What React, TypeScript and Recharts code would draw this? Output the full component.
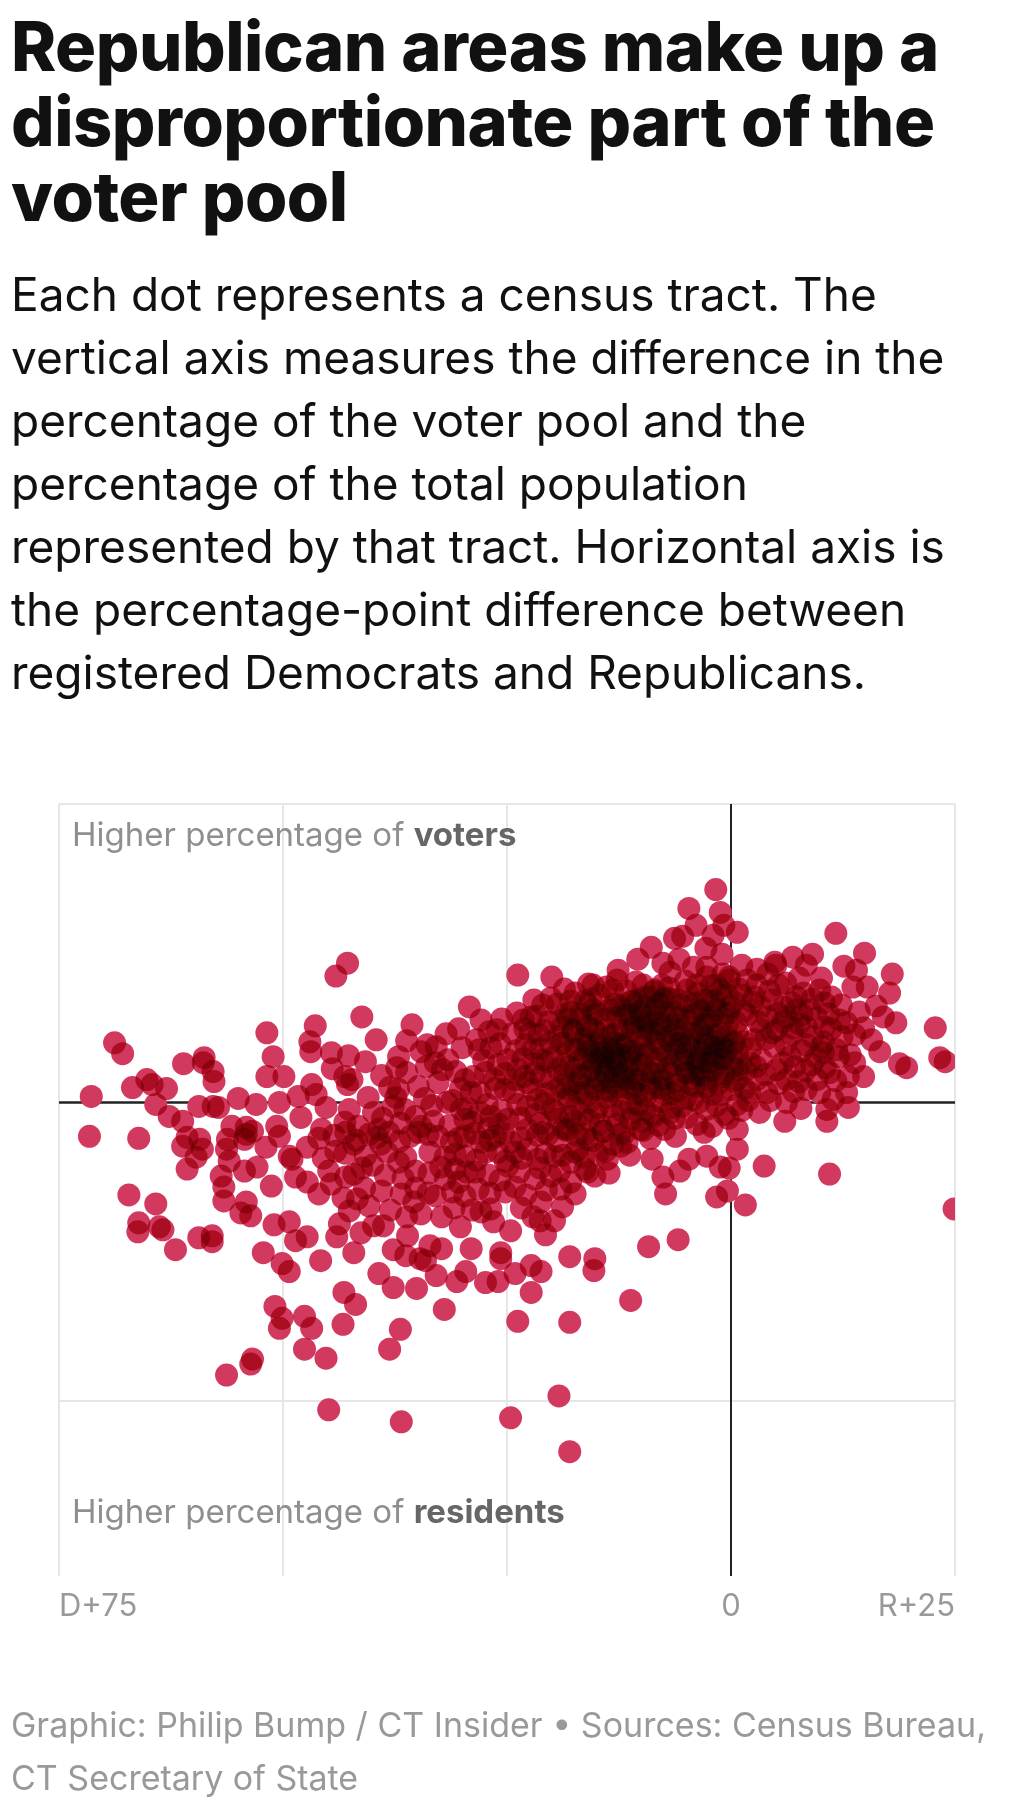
import React from 'react';
import { ScatterChart, Scatter, XAxis, YAxis, ReferenceLine } from 'recharts';

const titleLines = ['Republican areas make up a', 'disproportionate part of the', 'voter pool'];
const subtitleLines = [
  'Each dot represents a census tract. The',
  'vertical axis measures the difference in the',
  'percentage of the voter pool and the',
  'percentage of the total population',
  'represented by that tract. Horizontal axis is',
  'the percentage-point difference between',
  'registered Democrats and Republicans.',
];
const footerLines = ['Graphic: Philip Bump / CT Insider • Sources: Census Bureau,', 'CT Secretary of State'];
const topLabel = ['Higher percentage of ', 'voters'];
const bottomLabel = ['Higher percentage of ', 'residents'];

const xTicks = [-75, -50, -25, 0, 25];
const xTickLabels: Record<string, string> = { '-75': 'D+75', '0': '0', '25': 'R+25' };
const xDomain: [number, number] = [-75, 25];
const yDomain: [number, number] = [-47.6, 30];
const yGridValues = [30, -30];

// x: party-point difference (negative = Democratic), y: voter share minus population share (scaled units)
const westTracts: [number, number][] = [
  [-68.8, 6.0], [-67.9, 4.9], [-71.4, 0.6], [-71.6, -3.4], [-66.8, 1.5], [-65.2, 2.3], [-64.6, 1.8], [-63.0, 1.4],
  [-64.2, -0.2], [-62.7, -1.4], [-61.2, -1.9], [-61.1, 3.9], [-58.8, 4.5], [-58.9, 4.0], [-57.8, 3.1], [-57.7, 2.1],
  [-59.4, -0.4], [-57.8, -0.4], [-57.2, -0.5], [-55.0, 0.4], [-53.0, -0.2], [-51.8, 7.0], [-51.1, 4.6], [-51.8, 2.6],
  [-49.9, 2.6], [-50.4, 0.0], [-66.1, -3.6], [-55.7, -2.4], [-54.1, -2.5], [-53.4, -2.9], [-50.7, -2.4], [-61.2, -4.4],
  [-60.7, -3.5], [-59.3, -3.7], [-59.0, -4.7], [-59.7, -5.5], [-60.7, -6.7], [-56.2, -3.7], [-56.3, -4.7], [-56.0, -5.9],
  [-56.9, -7.4], [-56.6, -8.5], [-56.6, -9.9], [-54.3, -3.7], [-54.1, -3.2], [-54.3, -6.9], [-52.9, -6.5], [-51.9, -4.5],
  [-50.4, -3.4], [-49.3, -5.4], [-51.3, -8.4], [-54.1, -10.0], [-54.7, -11.1], [-53.6, -11.4], [-51.0, -12.3], [-49.3, -12.0],
  [-52.2, -15.1], [-50.1, -16.2], [-49.3, -17.0], [-50.9, -20.5], [-50.1, -21.7], [-50.4, -22.7], [-53.4, -25.8], [-53.6, -26.3],
  [-56.3, -27.4], [-67.2, -9.3], [-64.2, -10.2], [-66.1, -12.1], [-66.2, -13.0], [-63.8, -12.5], [-63.4, -12.8], [-62.0, -14.8],
  [-59.4, -13.6], [-57.9, -13.4], [-57.9, -14.0],
];

const centralWestTracts: [number, number][] = [
  [-42.8, 14.0], [-44.1, 12.7], [-46.4, 7.7], [-47.0, 6.1], [-46.9, 5.1], [-44.6, 5.0], [-42.7, 4.7], [-43.1, 2.6],
  [-42.3, 2.3], [-42.8, 1.8], [-46.8, 1.8], [-46.3, 0.8], [-36.2, 6.2], [-37.1, 4.6],
  [-37.3, 3.5], [-36.2, 3.0], [-38.1, 1.5], [-37.1, 1.3], [-37.4, 0.5], [-37.7, -0.4], [-36.4, -0.7], [-34.9, 1.6],
  [-33.9, 5.8], [-32.9, 5.6], [-34.0, 3.6], [-33.0, 4.0], [-32.2, 3.3], [-32.7, 2.0], [-30.7, 3.1], [-31.6, 4.3],
  [-30.4, 7.4], [-29.2, 9.6], [-27.9, 8.3], [-27.0, 7.1], [-28.4, 6.3], [-28.1, 5.3], [-25.8, 5.9], [-24.9, 4.3],
  [-27.4, 3.0], [-29.0, 1.0], [-31.7, 0.0], [-30.1, -0.7], [-28.0, -1.0], [-25.2, 1.3], [-24.1, 2.3], [-23.8, 12.8],
  [-48.0, -1.5], [-45.7, -2.7], [-43.1, -2.0], [-39.3, -2.7], [-35.2, -1.4], [-29.7, -1.7], [-26.8, -1.4],
  [-24.9, -1.7], [-41.6, -2.4], [-34.6, -2.4],
  [-41.2, 8.6], [-39.6, 6.3], [-40.8, 4.1], [-39.0, 2.7], [-35.6, 7.8], [-34.6, 5.1], [-31.8, 6.9], [-30.0, 5.5],
  [-29.7, 2.3], [-34.2, 0.4], [-40.5, 0.5], [-44.5, 3.4], [-48.3, 0.6], [-45.2, -0.5], [-42.6, -0.7], [-39.9, -1.0],
];

const centralTracts: [number, number][] = [
  [-47.3, -4.5], [-44.1, -4.9], [-42.1, -4.2], [-49.0, -5.7], [-48.6, -7.5], [-47.3, -8.0], [-46.0, -9.2], [-44.6, -8.2],
  [-42.1, -7.2], [-41.7, -9.7], [-40.0, -6.3], [-39.1, -4.2], [-37.1, -6.0], [-35.8, -3.4], [-35.2, -6.9], [-36.8, -9.2],
  [-36.2, -11.5], [-34.6, -11.2], [-33.0, -9.4], [-31.9, -7.7], [-30.8, -6.7], [-29.7, -9.4], [-28.2, -8.7], [-27.9, -11.0],
  [-26.8, -10.7], [-25.2, -9.0], [-25.2, -5.9], [-27.4, -5.0], [-29.7, -5.4], [-31.9, -5.5], [-32.3, -11.5], [-30.2, -12.5],
  [-48.6, -13.9], [-47.3, -13.5], [-43.7, -12.2], [-44.0, -13.5], [-41.3, -13.1], [-39.9, -12.4], [-38.8, -12.4], [-42.1, -15.1],
  [-37.7, -14.8], [-36.1, -13.4], [-36.3, -15.4], [-34.7, -15.7], [-33.6, -14.4], [-32.3, -14.7], [-34.1, -15.9], [-32.9, -17.4],
  [-29.0, -14.7], [-25.7, -15.1], [-25.7, -15.7], [-29.6, -17.0], [-30.6, -18.0], [-27.4, -18.1], [-26.0, -18.0], [-24.1, -17.2],
  [-45.8, -15.9], [-39.3, -17.2], [-37.7, -18.6], [-35.1, -18.7], [-43.2, -19.1], [-41.9, -20.3], [-43.3, -22.3], [-47.6, -21.5],
  [-46.8, -22.7], [-47.6, -24.8], [-45.2, -25.7], [-36.9, -22.8], [-38.1, -24.8], [-32.0, -20.8], [-44.9, -30.9], [-36.8, -32.1],
  [-24.6, -31.7], [-23.8, -22.0], [-24.6, -12.9], [-43.0, -3.0], [-40.4, -3.2], [-38.2, -3.0], [-34.9, -3.0], [-32.7, -3.4],
  [-31.2, -4.0], [-29.7, -3.4], [-27.9, -4.0], [-26.3, -3.4], [-24.6, -4.0], [-24.9, -6.4], [-28.6, -7.0], [-30.4, -8.0],
  [-46.0, -3.6], [-44.3, -3.3], [-41.8, -3.8], [-39.5, -3.5], [-37.0, -3.9], [-33.8, -3.2], [-30.4, -3.6], [-28.6, -3.1],
  [-26.9, -3.8], [-25.4, -3.1], [-45.5, -5.6], [-43.1, -5.1], [-40.8, -5.4], [-38.4, -5.0], [-36.3, -5.5], [-33.6, -5.0],
  [-30.8, -5.2], [-28.4, -5.8], [-26.0, -5.0], [-44.9, -6.9], [-43.0, -7.5], [-41.2, -6.6], [-38.6, -7.3], [-36.6, -7.6],
  [-33.7, -7.1], [-32.4, -6.5], [-29.5, -7.0], [-27.1, -7.3], [-25.8, -7.8], [-43.3, -9.6], [-40.9, -8.6], [-39.0, -8.9],
  [-35.2, -8.6], [-33.8, -9.1], [-31.1, -9.0], [-26.9, -9.1], [-42.6, -10.9], [-40.4, -10.4], [-38.0, -10.8], [-35.4, -10.0],
  [-30.9, -10.6], [-28.9, -10.8], [-26.5, -12.0],
];

const coreTracts: [number, number][] = [
  [-1.7, 21.4], [-4.7, 19.5], [-6.3, 16.5], [-5.4, 16.7], [-2.0, 16.8], [-2.8, 15.5], [-7.6, 14.0], [-5.8, 14.4],
  [-6.8, 13.1], [-2.7, 13.6], [-2.7, 12.6], [-0.2, 12.3], [-20.0, 12.6], [-20.1, 10.5], [-12.6, 13.3],
  [-12.7, 12.3], [-10.6, 12.1], [-8.6, 11.1], [-9.1, 10.6], [-17.4, 11.0], [-14.7, 10.8], [-22.3, 8.6], [-22.4, 7.0],
  [-21.4, 6.8], [-20.2, 6.0], [-19.9, 4.5], [-18.8, 7.6], [-17.9, 9.1], [-16.0, 7.6], [-17.1, 5.3],
  [-14.1, 4.6], [-14.0, 7.3], [-11.9, 9.3], [-10.1, 8.6], [-10.8, 8.0], [-6.3, 9.0], [-4.1, 10.0], [-3.0, 10.3],
  [-1.2, 11.3], [-2.7, 8.3], [-3.4, 5.0], [-1.9, 4.6], [-4.9, 3.0], [-9.0, 3.0], [-11.6, 6.0], [-8.2, 6.0],
  [-5.7, 6.0], [-15.2, 2.6], [-17.4, 3.3], [-21.2, 2.6], [-23.8, 3.3], [-22.7, 2.0], [-19.0, 1.6], [-12.7, 1.6],
  [-7.4, 1.3], [-2.7, 1.6], [-0.8, 2.6], [-16.6, 6.3], [-15.4, 4.3], [-13.2, 5.3], [-14.8, 5.8], [-12.7, 3.8],
  [-13.6, 3.3], [-10.4, 4.8], [-9.3, 6.8], [-7.7, 7.8], [-7.1, 4.8], [-4.3, 6.8], [-3.8, 3.8], [-1.0, 6.3],
  [0.1, 4.3], [-0.4, 7.8], [-1.6, 9.3], [-4.9, 8.3], [-4.9, 11.3], [-8.2, 9.8], [-10.4, 10.3], [-13.6, 9.3],
  [-15.4, 8.8], [-17.7, 7.3], [-19.3, 3.3], [-17.7, 1.8], [-16.0, 0.8], [-13.8, 0.5], [-11.6, 2.3], [-9.9, 0.8],
  [-8.2, 2.8], [-6.0, 1.8], [-4.3, 0.3], [-2.1, 0.8], [0.1, 1.3], [0.7, 3.3], [-3.2, 2.8], [-5.4, 4.3],
  [-9.3, 4.8], [-6.6, 6.8], [-3.2, 6.8], [-2.7, 7.8], [-3.8, 11.8], [-6.0, 10.3], [-12.1, 7.3], [-14.3, 2.0],
  [-21.0, 4.3], [-22.1, 5.3], [-23.2, 8.3], [-19.2, 8.3], [-21.0, 9.8], [-15.4, 11.8], [-16.0, 9.8], [-13.2, 11.3],
  [-7.7, 11.8], [-0.4, 5.3], [-1.6, 3.8],
  [-23.8, -0.2], [-21.6, 0.3], [-19.9, -0.7], [-18.2, 0.3], [-16.6, -1.2], [-14.9, -0.5], [-12.1, -0.9], [-10.4, -0.2],
  [-8.8, -1.2], [-6.6, -0.5], [-4.9, -1.5], [-2.7, -0.7], [-0.7, -1.2], [0.7, -0.2], [-24.1, -5.0], [-22.7, -4.7],
  [-21.6, -5.7], [-19.7, -5.4], [-17.9, -6.0], [-16.3, -6.7], [-21.9, -7.7], [-20.1, -7.4], [-22.7, -2.7], [-20.4, -3.2],
  [-18.2, -2.7], [-16.0, -3.7], [-14.3, -2.9], [-13.2, -4.2], [-17.1, -4.7], [-14.9, -5.2], [-8.8, -5.7], [-7.6, -7.5],
  [-7.3, -9.2], [-5.7, -6.9], [-4.7, -5.7], [-2.7, -5.4], [-1.2, -6.5], [-0.2, -6.6], [-0.4, -8.9], [-1.6, -9.5],
  [1.6, -10.3], [0.7, -4.7], [-3.0, -3.0], [-7.4, -2.7], [-10.1, -2.7], [-11.6, -4.0], [-12.3, -4.4], [-13.8, -5.7],
  [-16.0, -7.0], [-17.9, -8.0], [-19.0, -8.7], [-21.2, -10.0], [-18.8, -10.5], [-19.7, -11.9], [-22.1, -11.5], [-20.7, -13.3],
  [-22.3, -16.4], [-21.2, -17.0], [-22.3, -19.1], [-18.0, -15.5], [-15.2, -15.7], [-15.3, -16.9], [-9.2, -14.5], [-5.9, -13.8],
  [-11.2, -19.9], [-18.0, -22.1], [-19.2, -29.5], [-18.0, -35.1], [-17.4, -1.9], [-9.9, -1.9], [-3.8, -2.2], [-12.7, -2.2],
  [-19.3, -1.7], [-17.4, -5.0],
];

const coreFillTracts: [number, number][] = [
  [-18.6, 11.4], [-15.9, 11.9], [-13.9, 11.6], [-11.7, 11.2], [-9.8, 11.8], [-6.9, 11.5], [-5.1, 12.2], [-2.2, 11.7], [-0.9, 12.9],
  [-22.0, 10.3], [-19.4, 9.9], [-17.9, 10.2], [-15.6, 10.4], [-13.0, 9.9], [-11.2, 10.1], [-9.6, 9.6], [-7.3, 10.5], [-5.6, 9.8],
  [-3.6, 9.4], [-1.9, 10.2], [-0.4, 10.8],
  [-25.6, 8.4], [-23.9, 9.0], [-21.7, 8.7], [-20.3, 8.1], [-18.4, 8.9], [-16.8, 8.4], [-14.9, 8.9], [-12.8, 8.5], [-11.3, 8.9],
  [-9.4, 8.2], [-8.1, 8.7], [-5.9, 8.4], [-4.0, 8.9], [-2.1, 8.6], [-0.6, 8.9],
  [-26.1, 7.3], [-24.4, 6.9], [-23.0, 7.4], [-20.8, 7.2], [-19.3, 6.6], [-17.6, 7.0], [-15.3, 7.3], [-13.2, 6.8], [-11.0, 7.1],
  [-9.9, 7.5], [-8.4, 6.9], [-6.1, 7.3], [-5.0, 7.6], [-3.5, 7.1], [-1.8, 6.8], [-0.5, 6.6],
  [-26.8, 5.5], [-24.0, 5.2], [-22.9, 5.8], [-21.3, 5.4], [-19.0, 5.9], [-18.2, 5.1], [-16.0, 5.6], [-14.5, 5.0], [-12.3, 5.8],
  [-11.1, 5.1], [-9.8, 5.7], [-7.9, 5.3], [-6.4, 5.8], [-4.6, 5.4], [-2.6, 5.9], [-1.1, 5.6], [0.3, 5.9],
  [-27.6, 4.2], [-26.0, 3.8], [-23.2, 4.4], [-22.0, 3.9], [-20.5, 4.1], [-18.7, 3.8], [-16.9, 4.3], [-14.7, 3.9], [-12.9, 4.5],
  [-11.4, 3.7], [-10.1, 4.2], [-8.3, 4.0], [-6.8, 4.4], [-5.2, 3.6], [-3.6, 4.5], [-2.2, 4.1], [-0.9, 4.4], [1.1, 3.9],
  [-28.8, 2.6], [-26.4, 2.3], [-25.2, 2.9], [-23.1, 2.6], [-21.9, 3.0], [-20.1, 2.4], [-18.6, 2.8], [-16.7, 2.5], [-15.9, 3.1],
  [-13.9, 2.6], [-12.1, 2.9], [-10.9, 2.4], [-9.6, 2.7], [-7.9, 2.3], [-6.5, 2.9], [-4.1, 2.5], [-1.5, 2.9], [0.4, 2.1],
  [-30.2, 1.4], [-28.0, 1.0], [-26.3, 1.4], [-24.3, 1.0], [-22.1, 1.3], [-20.6, 0.9], [-18.3, 1.4], [-17.0, 1.0], [-15.1, 1.3],
  [-13.3, 1.1], [-11.8, 1.5], [-10.5, 0.9], [-8.9, 1.4], [-7.5, 0.8], [-5.9, 1.2], [-4.1, 1.6], [-1.1, 0.8], [1.5, 1.4],
  [-33.4, -0.3], [-31.1, 0.2], [-29.4, -0.6], [-27.2, -0.2], [-25.6, -0.8], [-22.7, -0.4], [-20.8, -0.1], [-17.4, -0.6],
  [-15.8, 0.0], [-13.4, -0.4], [-11.2, -0.1], [-9.6, -0.7], [-7.8, 0.1], [-5.5, -0.4], [-3.6, 0.0], [-1.6, -0.3], [1.9, 0.2],
  [-38.9, -1.6], [-36.9, -2.1], [-33.2, -1.9], [-31.4, -2.3], [-28.9, -2.0], [-27.1, -2.6], [-25.9, -2.2], [-23.5, -1.6],
  [-21.3, -2.1], [-18.7, -2.6], [-15.9, -1.8], [-14.6, -2.2], [-11.2, -1.7], [-8.1, -2.3], [-6.3, -1.6], [-2.1, -2.4], [-0.3, -1.6],
  [-23.4, -3.6], [-21.6, -3.3], [-19.4, -3.9], [-17.2, -3.3], [-15.4, -3.8], [-12.4, -3.2], [-9.0, -3.6], [-6.2, -3.4],
  [-23.4, -5.6], [-20.7, -5.1], [-18.8, -5.3], [-16.4, -5.5], [-14.0, -4.9], [-11.3, -5.3],
  [-23.6, -7.0], [-21.3, -6.6], [-19.1, -6.9], [-15.2, -7.4], [-13.6, -7.1],
  [-24.1, -8.5], [-22.9, -9.3], [-20.6, -8.8], [-17.4, -9.2], [-23.4, -10.6], [-21.3, -11.9],
  [-10.4, 14.4], [-8.9, 15.6], [-4.2, 13.6], [-1.0, 14.9], [-0.8, 17.8], [-3.9, 17.8], [-1.2, 19.1],
];

// darkest clusters of overlapping tracts
const coreDenseTracts: [number, number][] = [
  [-15.9, 5.8], [-14.6, 6.3], [-13.1, 6.0], [-11.8, 5.6], [-16.4, 4.4], [-15.0, 4.9], [-13.7, 4.3], [-12.4, 4.8],
  [-11.2, 4.1], [-15.6, 3.3], [-14.2, 3.6], [-12.9, 3.1], [-11.6, 3.4], [-14.8, 2.2], [-13.3, 2.0], [-12.0, 2.5],
  [-16.8, 2.7], [-10.9, 5.2], [-13.5, 5.4], [-14.9, 7.0], [-12.6, 7.2], [-16.2, 6.5], [-10.6, 3.0], [-13.9, 1.3], [-15.2, 1.6],
  [-5.6, 6.6], [-4.2, 7.0], [-2.7, 6.5], [-1.3, 6.9], [-6.1, 5.3], [-4.8, 5.7], [-3.4, 5.2], [-2.0, 5.6],
  [-0.6, 5.1], [-5.4, 4.2], [-4.0, 4.5], [-2.6, 4.0], [-1.2, 4.4], [-5.0, 3.0], [-3.6, 2.7], [-2.2, 3.2],
  [-0.8, 2.9], [-6.4, 3.8], [-4.5, 1.8], [-2.9, 1.5], [-1.4, 1.9], [0.2, 3.6], [0.4, 6.1], [-3.1, 7.8], [-6.8, 6.2],
  [-11.0, 10.2], [-9.6, 10.6], [-8.1, 10.0], [-6.7, 10.4], [-11.7, 8.8], [-10.2, 9.2], [-8.8, 8.7], [-7.3, 9.1],
  [-5.9, 8.6], [-10.8, 7.6], [-9.3, 7.9], [-7.9, 7.4], [-6.5, 7.8], [-12.4, 9.7], [-8.5, 11.3], [-10.0, 6.5],
  [-8.6, 6.2], [-7.1, 6.6], [-9.4, 5.0], [-7.8, 4.6],
  [-2.6, 10.3], [-1.1, 10.7], [0.3, 10.1], [-3.2, 9.2], [-1.8, 9.6], [-0.3, 9.0], [-2.4, 8.2], [-0.9, 8.5],
  [0.6, 8.0], [-4.3, 8.8], [-1.6, 11.8], [-4.9, 10.1], [-3.7, 11.0], [0.9, 11.4], [-0.2, 12.6],
  [-18.2, 8.4], [-16.8, 8.9], [-15.4, 9.3], [-17.5, 7.2], [-16.1, 7.7], [-18.8, 6.0], [-17.4, 5.3], [-18.0, 3.6],
  [-17.1, 2.0], [-16.3, 10.2], [-14.1, 8.4], [-13.0, 9.4],
  [-19.6, 1.2], [-18.1, 0.6], [-16.4, 1.0], [-12.6, 0.7], [-11.1, 1.3], [-9.5, 0.6], [-8.0, 1.5], [-6.6, 0.9],
  [-5.1, 0.4], [-10.4, 2.2], [-8.7, 2.9], [-7.2, 3.4], [-9.9, 3.8],
  [-21.8, -1.2], [-19.6, -1.0], [-17.9, -1.4], [-15.2, -1.1], [-13.1, -1.3], [-11.0, -1.0], [-8.6, -1.4], [-6.9, -1.1],
  [-20.9, -3.0], [-18.4, -2.8], [-16.3, -3.2], [-14.2, -2.9], [-11.9, -3.1], [-9.8, -2.8],
  [-14.4, 5.1], [-13.0, 4.2], [-12.2, 5.9], [-15.3, 4.0], [-14.0, 3.0], [-12.7, 3.7], [-13.6, 6.6], [-11.4, 4.7],
  [-15.8, 5.2], [-12.9, 2.6], [-14.5, 4.5], [-13.2, 5.0],
  [-4.5, 6.2], [-3.0, 5.9], [-1.8, 5.0], [-3.9, 4.1], [-2.4, 4.7], [-5.0, 4.9], [-3.3, 3.4], [-1.9, 6.2],
  [-4.1, 3.0], [-0.9, 5.5], [-2.8, 2.3], [-5.8, 5.9],
  [-9.9, 8.3], [-8.4, 9.4], [-7.0, 8.2], [-10.6, 9.9], [-9.0, 7.2], [-7.6, 10.4], [-11.3, 8.0], [-8.1, 8.0],
  [-9.1, 1.9], [-7.6, 2.3], [-10.9, 1.8], [-6.2, 2.1],
];

const eastTracts: [number, number][] = [
  [0.7, 17.1], [11.7, 17.0], [14.9, 15.0], [18.0, 12.9], [15.2, 11.6], [17.7, 11.0], [17.0, 8.6], [18.4, 8.0],
  [22.8, 7.5], [23.3, 4.5], [23.9, 4.1], [18.8, 3.9], [19.6, 3.5], [6.9, 14.6], [4.9, 14.1], [2.9, 13.4],
  [7.6, 12.5], [10.1, 12.5], [9.9, 11.3], [11.2, 10.6], [5.3, 11.8], [2.6, 10.6], [12.1, 8.3], [14.8, 7.5],
  [15.7, 6.3], [16.6, 5.1], [13.8, 6.8], [10.4, 7.6], [10.3, 6.1], [10.3, 5.0], [13.8, 4.0], [14.8, 2.6],
  [13.1, 2.6], [11.0, 3.0], [12.9, 1.0], [11.4, 0.3], [13.1, -0.5], [10.7, -0.7], [8.4, 1.3], [7.1, 3.6],
  [6.2, 8.6], [5.9, 9.6], [7.3, 9.3], [8.4, 7.6], [8.8, 9.3], [4.0, 8.6], [2.6, 6.3], [4.8, 5.6],
  [6.6, 4.6], [5.1, 3.3], [4.0, 1.0], [6.2, 0.0], [2.1, 1.0], [0.7, 2.3], [2.1, 4.0], [0.7, 5.0],
  [-0.1, 9.6], [0.7, 7.0], [3.2, -1.0], [6.0, -1.9], [10.7, -1.9], [3.7, -6.4], [11.0, -7.2], [24.9, -10.7],
  [0.7, -2.7], [2.9, 11.8], [1.8, 8.8], [3.4, 7.3], [5.1, 7.3], [6.8, 6.8], [8.4, 5.8], [9.0, 3.8],
  [3.4, 4.3], [2.9, 2.3], [6.2, 2.3], [9.6, 2.3], [4.6, 10.3], [1.2, 10.8], [1.2, 13.8], [8.4, 13.8],
  [11.8, 5.3], [12.3, 9.8],
  [1.8, 12.3], [4.1, 12.9], [6.1, 12.0], [8.1, 11.0], [10.4, 10.0], [1.4, 9.2], [3.3, 9.6], [5.8, 8.1],
  [7.6, 7.9], [9.6, 8.5], [11.2, 7.4], [1.3, 6.1], [3.9, 6.4], [6.1, 5.8], [7.9, 5.2], [9.5, 4.5],
  [12.0, 4.6], [1.6, 3.2], [3.8, 2.8], [5.3, 1.9], [7.6, 2.1], [9.9, 1.0], [1.2, -0.8], [4.4, 0.2],
  [7.8, -0.6], [10.5, 3.5], [12.4, 6.6], [14.3, 9.1], [13.6, 11.6], [16.2, 9.7], [7.3, 10.6], [5.0, 13.8],
  [9.1, 14.9], [12.6, 13.7], [14.0, 13.3],
  [2.4, 10.1], [4.3, 11.2], [6.8, 10.0], [9.1, 10.4], [3.0, 8.1], [5.2, 9.0], [7.9, 8.8], [10.9, 8.9],
  [2.2, 5.4], [4.6, 7.0], [6.9, 7.5], [9.1, 6.6], [2.8, 3.6], [5.8, 4.0], [8.3, 3.2], [10.1, 5.6],
  [11.7, 2.2], [13.3, 4.8], [12.9, 8.0], [7.0, 1.1],
];

const tracts = [
  ...westTracts,
  ...centralWestTracts,
  ...centralTracts,
  ...coreTracts,
  ...coreFillTracts,
  ...coreDenseTracts,
  ...eastTracts,
].map(([x, y]) => ({ x, y }));

const FONT = 'Inter, "Noto Sans", sans-serif';

const Dot = (props: any) => {
  const { cx, cy } = props;
  if (cx == null || cy == null) return null;
  return <circle cx={cx} cy={cy} r={11.5} fill="#d1395e" style={{ mixBlendMode: 'multiply' }} />;
};

const XTick = (props: any) => {
  const { x, y, payload } = props;
  const v = payload.value;
  const label = xTickLabels[String(v)] ?? '';
  if (!label) return null;
  const anchor = v === xDomain[0] ? 'start' : v === xDomain[1] ? 'end' : 'middle';
  return (
    <text x={x} y={y} dy={40} textAnchor={anchor} fill="#999999" fontSize={31} fontFamily={FONT}>
      {label}
    </text>
  );
};

export default function App() {
  return (
    <div style={{ position: 'relative', width: 1008, height: 1795, background: '#fff', fontFamily: FONT }}>
      <div style={{ position: 'absolute', left: 0, top: 776 }}>
        <ScatterChart width={1008} height={842} margin={{ top: 20, right: 61, bottom: 10, left: 51 }}>
          <XAxis
            type="number"
            dataKey="x"
            domain={xDomain}
            ticks={xTicks}
            allowDataOverflow
            axisLine={false}
            tickLine={false}
            tickSize={0}
            tickMargin={0}
            height={40}
            interval={0}
            tick={<XTick />}
          />
          <YAxis type="number" dataKey="y" domain={yDomain} allowDataOverflow hide />
          {xTicks.filter((t) => t !== 0).map((t) => (
            <ReferenceLine key={'gx' + t} x={t} stroke="#e6e6e6" strokeWidth={2} />
          ))}
          {yGridValues.map((t) => (
            <ReferenceLine key={'gy' + t} y={t} stroke="#e6e6e6" strokeWidth={2} />
          ))}
          <Scatter data={tracts} isAnimationActive={false} shape={<Dot />} />
          <ReferenceLine x={0} stroke="#222222" strokeWidth={2} />
          <ReferenceLine y={0} stroke="#222222" strokeWidth={2.5} />
        </ScatterChart>
      </div>
      <svg
        width={1024}
        height={1811}
        style={{ position: 'absolute', left: -8, top: -8, pointerEvents: 'none', overflow: 'visible' }}
      >
        {titleLines.map((t, i) => (
          <text key={'t' + i} x={11} y={71 + i * 75} fontSize={68.5} fontWeight={800} fill="#111111" fontFamily={FONT} letterSpacing={-0.5}>
            {t}
          </text>
        ))}
        {subtitleLines.map((t, i) => (
          <text key={'s' + i} x={11} y={311 + i * 63} fontSize={46} fill="#111111" fontFamily={FONT}>
            {t}
          </text>
        ))}
        <text x={72} y={846} fontSize={33} fill="#8f8f8f" fontFamily={FONT}>
          {topLabel[0]}
          <tspan fontWeight={700} fill="#666666">{topLabel[1]}</tspan>
        </text>
        <text x={72} y={1523} fontSize={33} fill="#8f8f8f" fontFamily={FONT}>
          {bottomLabel[0]}
          <tspan fontWeight={700} fill="#666666">{bottomLabel[1]}</tspan>
        </text>
        {footerLines.map((t, i) => (
          <text key={'f' + i} x={11} y={1737 + i * 53} fontSize={34} fill="#999999" fontFamily={FONT}>
            {t}
          </text>
        ))}
      </svg>
    </div>
  );
}
